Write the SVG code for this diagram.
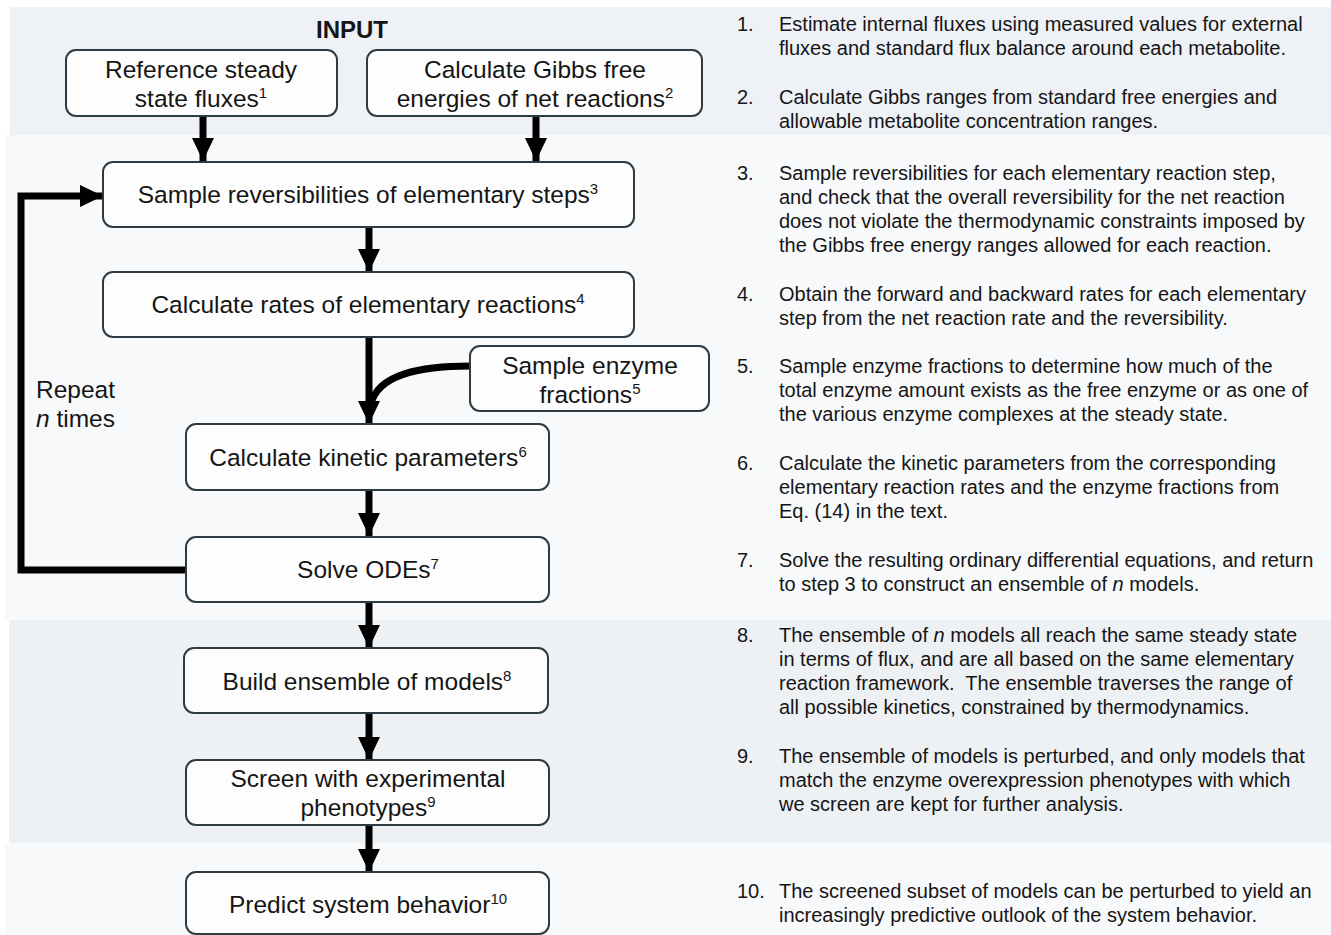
<svg xmlns="http://www.w3.org/2000/svg" width="1331" height="935" viewBox="0 0 1331 935">
<style>
  .box { fill: #fdfdfd; stroke: #2e3b42; stroke-width: 2; }
  .t { font-family: "Liberation Sans", Arial, sans-serif; font-size: 24.5px; fill: #151515; text-anchor: middle; }
  .sup { font-size: 15px; }
  .d { font-family: "Liberation Sans", Arial, sans-serif; font-size: 20px; fill: #151515; }
  .wire { fill: none; stroke: #000; stroke-width: 7; }
</style>
<defs>
  <marker id="ah" markerUnits="userSpaceOnUse" markerWidth="24" markerHeight="24" viewBox="0 0 24 24" refX="23" refY="12" orient="auto">
    <path d="M0,1 L23,12 L0,23 z" fill="#000"/>
  </marker>
</defs>
<rect x="0" y="0" width="1331" height="935" fill="#ffffff"/>
<rect x="10" y="7" width="1321" height="128" fill="#eef1f5"/>
<rect x="5" y="135" width="1326" height="485" fill="#f8f9fb"/>
<rect x="9" y="620" width="1322" height="223" fill="#eef1f4"/>
<rect x="5" y="843" width="1326" height="92" fill="#f8f9fb"/>

<text x="352" y="38" class="t" style="font-weight:bold;font-size:24px">INPUT</text>

<g id="connectors">
  <line x1="203" y1="116" x2="203" y2="161" class="wire" marker-end="url(#ah)"/>
  <line x1="536" y1="116" x2="536" y2="161" class="wire" marker-end="url(#ah)"/>
  <line x1="369" y1="227" x2="369" y2="272" class="wire" marker-end="url(#ah)"/>
  <line x1="369" y1="337" x2="369" y2="424" class="wire" marker-end="url(#ah)"/>
  <path d="M471,366 C420,366 378,374 371,404" class="wire"/>
  <line x1="369" y1="490" x2="369" y2="536" class="wire" marker-end="url(#ah)"/>
  <path d="M186,570 L21,570 L21,196 L103,196" class="wire" stroke-width="6" marker-end="url(#ah)"/>
  <line x1="369" y1="602" x2="369" y2="648" class="wire" marker-end="url(#ah)"/>
  <line x1="369" y1="713" x2="369" y2="760" class="wire" marker-end="url(#ah)"/>
  <line x1="369" y1="825" x2="369" y2="872" class="wire" marker-end="url(#ah)"/>
</g>

<g id="n1">
  <rect x="66" y="50" width="271" height="66" rx="10" class="box"/>
  <text x="201" y="78" class="t">Reference steady</text>
  <text x="201" y="107" class="t">state fluxes<tspan class="sup" dy="-9">1</tspan></text>
</g>
<g id="n2">
  <rect x="367" y="50" width="335" height="66" rx="10" class="box"/>
  <text x="535" y="78" class="t">Calculate Gibbs free</text>
  <text x="535" y="107" class="t">energies of net reactions<tspan class="sup" dy="-9">2</tspan></text>
</g>
<g id="n3">
  <rect x="103" y="162" width="531" height="65" rx="10" class="box"/>
  <text x="368" y="203" class="t">Sample reversibilities of elementary steps<tspan class="sup" dy="-9">3</tspan></text>
</g>
<g id="n4">
  <rect x="103" y="272" width="531" height="65" rx="10" class="box"/>
  <text x="368" y="313" class="t">Calculate rates of elementary reactions<tspan class="sup" dy="-9">4</tspan></text>
</g>
<g id="n5">
  <rect x="470" y="346" width="239" height="65" rx="10" class="box"/>
  <text x="590" y="374" class="t">Sample enzyme</text>
  <text x="590" y="403" class="t">fractions<tspan class="sup" dy="-9">5</tspan></text>
</g>
<g id="n6">
  <rect x="186" y="424" width="363" height="66" rx="10" class="box"/>
  <text x="368" y="466" class="t">Calculate kinetic parameters<tspan class="sup" dy="-9">6</tspan></text>
</g>
<g id="n7">
  <rect x="186" y="537" width="363" height="65" rx="10" class="box"/>
  <text x="368" y="578" class="t">Solve ODEs<tspan class="sup" dy="-9">7</tspan></text>
</g>
<g id="loop-label">
  <text x="36" y="398" class="t" style="text-anchor:start">Repeat</text>
  <text x="36" y="427" class="t" style="text-anchor:start"><tspan font-style="italic">n</tspan> times</text>
</g>
<g id="n8">
  <rect x="184" y="648" width="364" height="65" rx="10" class="box"/>
  <text x="367" y="690" class="t">Build ensemble of models<tspan class="sup" dy="-9">8</tspan></text>
</g>
<g id="n9">
  <rect x="186" y="760" width="363" height="65" rx="10" class="box"/>
  <text x="368" y="787" class="t">Screen with experimental</text>
  <text x="368" y="816" class="t">phenotypes<tspan class="sup" dy="-9">9</tspan></text>
</g>
<g id="n10">
  <rect x="186" y="872" width="363" height="62" rx="10" class="box"/>
  <text x="368" y="913" class="t">Predict system behavior<tspan class="sup" dy="-9">10</tspan></text>
</g>

<g id="notes" class="d">
  <text x="737" y="31">1.</text>
  <text x="779" y="31">Estimate internal fluxes using measured values for external</text>
  <text x="779" y="55">fluxes and standard flux balance around each metabolite.</text>
  <text x="737" y="104">2.</text>
  <text x="779" y="104">Calculate Gibbs ranges from standard free energies and</text>
  <text x="779" y="128">allowable metabolite concentration ranges.</text>
  <text x="737" y="180">3.</text>
  <text x="779" y="180">Sample reversibilities for each elementary reaction step,</text>
  <text x="779" y="204">and check that the overall reversibility for the net reaction</text>
  <text x="779" y="228">does not violate the thermodynamic constraints imposed by</text>
  <text x="779" y="252">the Gibbs free energy ranges allowed for each reaction.</text>
  <text x="737" y="301">4.</text>
  <text x="779" y="301">Obtain the forward and backward rates for each elementary</text>
  <text x="779" y="325">step from the net reaction rate and the reversibility.</text>
  <text x="737" y="373">5.</text>
  <text x="779" y="373">Sample enzyme fractions to determine how much of the</text>
  <text x="779" y="397">total enzyme amount exists as the free enzyme or as one of</text>
  <text x="779" y="421">the various enzyme complexes at the steady state.</text>
  <text x="737" y="470">6.</text>
  <text x="779" y="470">Calculate the kinetic parameters from the corresponding</text>
  <text x="779" y="494">elementary reaction rates and the enzyme fractions from</text>
  <text x="779" y="518">Eq. (14) in the text.</text>
  <text x="737" y="567">7.</text>
  <text x="779" y="567">Solve the resulting ordinary differential equations, and return</text>
  <text x="779" y="591">to step 3 to construct an ensemble of <tspan font-style="italic">n</tspan> models.</text>
  <text x="737" y="642">8.</text>
  <text x="779" y="642">The ensemble of <tspan font-style="italic">n</tspan> models all reach the same steady state</text>
  <text x="779" y="666">in terms of flux, and are all based on the same elementary</text>
  <text x="779" y="690" xml:space="preserve">reaction framework.  The ensemble traverses the range of</text>
  <text x="779" y="714">all possible kinetics, constrained by thermodynamics.</text>
  <text x="737" y="763">9.</text>
  <text x="779" y="763">The ensemble of models is perturbed, and only models that</text>
  <text x="779" y="787">match the enzyme overexpression phenotypes with which</text>
  <text x="779" y="811">we screen are kept for further analysis.</text>
  <text x="737" y="898">10.</text>
  <text x="779" y="898">The screened subset of models can be perturbed to yield an</text>
  <text x="779" y="922">increasingly predictive outlook of the system behavior.</text>
</g>
</svg>
